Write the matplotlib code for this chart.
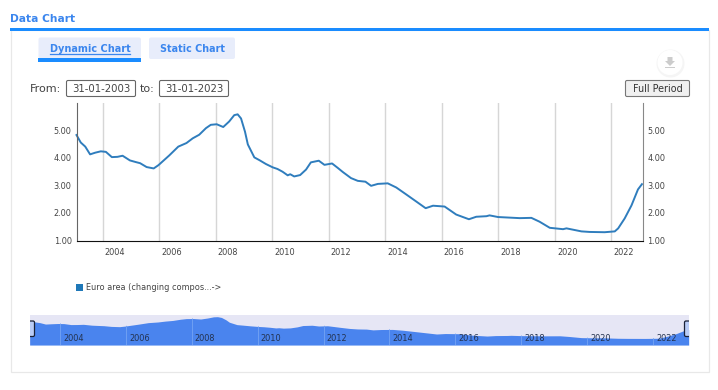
import matplotlib
matplotlib.use('Agg')
from matplotlib import pyplot as plt
from matplotlib.patches import Rectangle, FancyBboxPatch, Circle, Polygon
from matplotlib.transforms import ScaledTranslation

# Datos
anios = [2003.08, 2003.23, 2003.39, 2003.56, 2003.74, 2003.94, 2004.12, 2004.33, 2004.53, 2004.71,
         2004.97, 2005.18, 2005.33, 2005.56, 2005.81, 2005.98, 2006.36, 2006.68, 2006.97, 2007.19,
         2007.42, 2007.66, 2007.83, 2008.04, 2008.27, 2008.48, 2008.66, 2008.78, 2008.90, 2009.04,
         2009.14, 2009.37, 2009.55, 2009.78, 2010.02, 2010.19, 2010.37, 2010.55, 2010.64, 2010.78,
         2010.99, 2011.20, 2011.37, 2011.65, 2011.85, 2012.12, 2012.32, 2012.50, 2012.79, 2013.03,
         2013.30, 2013.50, 2013.74, 2014.09, 2014.39, 2014.74, 2015.10, 2015.43, 2015.69, 2016.10,
         2016.51, 2016.96, 2017.22, 2017.58, 2017.69, 2017.99, 2018.76, 2019.17, 2019.46, 2019.82,
         2020.29, 2020.41, 2020.94, 2021.23, 2021.76, 2022.12, 2022.24, 2022.47, 2022.71, 2022.94,
         2023.08]
valores = [4.82, 4.55, 4.40, 4.12, 4.18, 4.23, 4.21, 4.02, 4.03, 4.07,
           3.90, 3.84, 3.80, 3.66, 3.61, 3.73, 4.08, 4.40, 4.53, 4.70,
           4.83, 5.07, 5.19, 5.21, 5.11, 5.31, 5.54, 5.57, 5.42, 4.94,
           4.48, 4.01, 3.91, 3.77, 3.65, 3.59, 3.49, 3.36, 3.40, 3.32,
           3.37, 3.57, 3.83, 3.89, 3.74, 3.79, 3.63, 3.48, 3.26, 3.16,
           3.13, 2.98, 3.05, 3.07, 2.92, 2.67, 2.41, 2.17, 2.26, 2.23,
           1.94, 1.77, 1.86, 1.88, 1.91, 1.85, 1.81, 1.82, 1.68, 1.46,
           1.41, 1.44, 1.33, 1.31, 1.30, 1.33, 1.44, 1.80, 2.27, 2.85,
           3.04]
anios_ticks = [2004, 2006, 2008, 2010, 2012, 2014, 2016, 2018, 2020, 2022]
valores_ticks = [1, 2, 3, 4, 5]
serie = 'Euro area (changing compos...->'

AZUL = '#1a8cff'
TEXTO_AZUL = '#3b86ee'
LINEA = '#2f7dbd'
W, H = 718, 390

plt.rcParams['font.family'] = ['DejaVu Sans']


def ejes_px(x0, y0, x1, y1):
    # caja en pixeles, con y desde arriba
    return fig.add_axes([x0 / W, 1 - y1 / H, (x1 - x0) / W, (y1 - y0) / H])


fig = plt.figure(figsize=(W / 100, H / 100), dpi=100, facecolor='white')

# Capa de fondo con la interfaz de la pagina
fondo = fig.add_axes([0, 0, 1, 1])
fondo.set_xlim(0, W)
fondo.set_ylim(H, 0)
fondo.axis('off')

fondo.add_patch(Rectangle((10.5, 30), 698, 342, fc='white', ec='#e8e8e8', lw=0.9))
fondo.add_patch(Rectangle((10, 28.4), 699, 3, fc=AZUL, ec='none'))
fondo.text(10, 19, 'Data Chart', color=TEXTO_AZUL, fontsize=7.7, fontweight='bold', va='center')

fondo.add_patch(FancyBboxPatch((38.5, 37.5), 102.5, 21, boxstyle='round,pad=0,rounding_size=2', fc='#e8edfb', ec='none'))
fondo.add_patch(Rectangle((38, 58), 103, 4, fc=AZUL, ec='none'))
fondo.text(90, 48.5, 'Dynamic Chart', color=TEXTO_AZUL, fontsize=7, fontweight='bold', ha='center', va='center')
fondo.plot([50, 129.5], [53.5, 53.5], color=TEXTO_AZUL, lw=0.9)
fondo.add_patch(FancyBboxPatch((149, 37.5), 86, 21.5, boxstyle='round,pad=0,rounding_size=2', fc='#e8edfb', ec='none'))
fondo.text(192, 48.5, 'Static Chart', color=TEXTO_AZUL, fontsize=6.9, fontweight='bold', ha='center', va='center')

fondo.text(30, 88.5, 'From:', color='#444444', fontsize=8, va='center')
fondo.text(140, 88.5, 'to:', color='#444444', fontsize=8, va='center')
for x0, x1, fecha in [(66.5, 135.5, '31-01-2003'), (159.5, 228.5, '31-01-2023')]:
    fondo.add_patch(FancyBboxPatch((x0, 80.5), x1 - x0, 16, boxstyle='round,pad=0,rounding_size=1.5',
                                   fc='white', ec='#666666', lw=0.8))
    fondo.text((x0 + x1) / 2, 88.5, fecha, color='#444444', fontsize=7.3, ha='center', va='center')

fondo.add_patch(FancyBboxPatch((625.5, 80.5), 64, 16, boxstyle='round,pad=0,rounding_size=1.5',
                               fc='#f0f0f0', ec='#777777', lw=0.8))
fondo.text(657.5, 88.5, 'Full Period', color='#333333', fontsize=6.9, ha='center', va='center')

# Boton de descarga
fondo.add_patch(Circle((670.5, 63.5), 14, fc='#f5f5f5', ec='none'))
fondo.add_patch(Circle((670, 62.5), 12.5, fc='white', ec='none'))
fondo.add_patch(Polygon([(667.5, 57), (672.5, 57), (672.5, 61), (675, 61), (670, 66), (665, 61), (667.5, 61)],
                        fc='#cccccc', ec='none'))
fondo.add_patch(Rectangle((665, 66.8), 10, 1.2, fc='#cccccc', ec='none'))

# Leyenda
fondo.add_patch(Rectangle((76, 284), 6.5, 6.5, fc='#1f78b8', ec='none'))
fondo.text(85.5, 288, serie, color='#444444', fontsize=5.9, va='center')

# Grafico principal
ax = ejes_px(76.5, 103, 642.5, 240.5)
ax.patch.set_alpha(0)
ax.plot(anios, valores, color=LINEA, lw=1.4, solid_joinstyle='round', clip_on=False)
ax.set_xlim(2003.08, 2023.1)
ax.set_ylim(1, 5.98)
ax.set_xticks(anios_ticks)
ax.set_xticklabels([str(a) for a in anios_ticks])
ax.set_yticks(valores_ticks)
ax.set_yticklabels(['%.2f' % v for v in valores_ticks])
ax.grid(axis='x', color='#d6d6d6', lw=1)
ax.set_axisbelow(True)
ax.tick_params(axis='both', length=0, labelsize=5.9, labelcolor='#444444')
ax.tick_params(axis='y', pad=3.5, right=False, labelright=True)
ax.tick_params(axis='x', pad=5.5)
ax.spines['top'].set_visible(False)
ax.spines['left'].set_color('#666666')
ax.spines['right'].set_color('#888888')
ax.spines['bottom'].set_color('#111111')
desplazo = ScaledTranslation(12.5 / 100, 0, fig.dpi_scale_trans)
for etiqueta in ax.get_xticklabels():
    etiqueta.set_transform(etiqueta.get_transform() + desplazo)

# Navegador inferior
nav = ejes_px(30, 315, 689, 344.5)
nav.set_facecolor('#e6e6f5')
area = nav.fill_between(anios, valores, 0, color='#4a84ee', lw=0)
nav.set_xlim(2003.09, 2023.09)
nav.set_ylim(0.11, 5.9)
nav.set_xticks([])
nav.set_yticks([])
for lado in nav.spines.values():
    lado.set_visible(False)
for a in anios_ticks:
    # la rejilla solo se ve dentro del area
    linea = nav.axvline(a, color='#6f9ff3', lw=0.7)
    linea.set_clip_path(area.get_paths()[0], nav.transData)
    nav.annotate(str(a), (a, 0.11), xytext=(2.2, 1.3), textcoords='offset points', color='#23324f',
                 fontsize=5.9, va='bottom', ha='left')

# Asas del navegador, recortadas al borde del navegador
asas = fig.add_axes([0, 0, 1, 1])
asas.set_xlim(0, W)
asas.set_ylim(H, 0)
asas.axis('off')
marco = Rectangle((30, 315), 659, 30, transform=asas.transData)
for x0 in [28.5, 684.5]:
    asa = FancyBboxPatch((x0, 321), 6, 15.5, boxstyle='round,pad=0,rounding_size=1.5',
                         fc='#b9ccf6', ec='#1a2238', lw=0.9)
    asas.add_patch(asa)
    asa.set_clip_path(marco)

fig.savefig('out.png', dpi=100)
